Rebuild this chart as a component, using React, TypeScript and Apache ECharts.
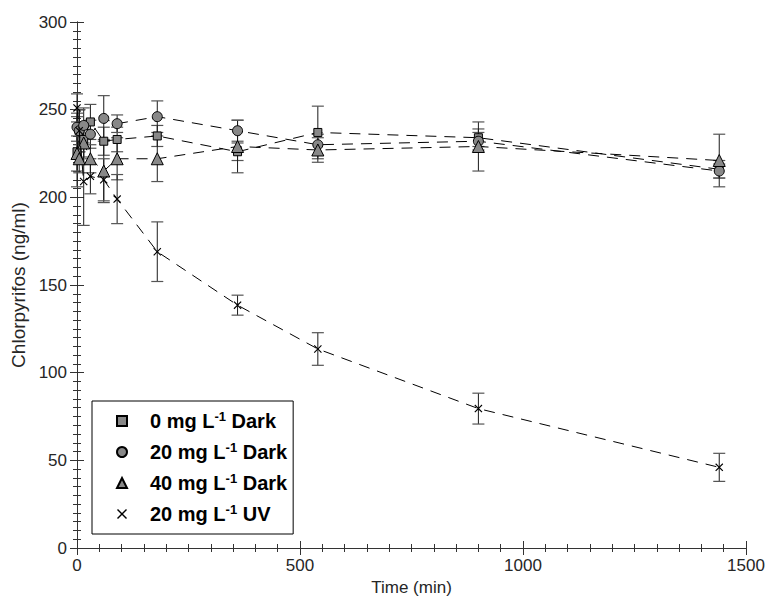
import React, { useEffect, useRef } from "react";
import * as echarts from "echarts";

const times = [0, 5, 15, 30, 60, 90, 180, 360, 540, 900, 1440];
const dark0 = [226, 238, 233, 243, 232, 233, 235, 226, 237, 234, 216];
const dark0Err = [20, 12, 10, 10, 8, 7, 6, 5, 15, 5, 5];
const dark20 = [240, 238, 241, 236, 245, 242, 246, 238, 230, 232, 215];
const dark20Err = [8, 12, 10, 8, 13, 5, 9, 6, 6, 5, 4];
const dark40 = [225, 222, 231, 222, 215, 222, 222, 229, 227, 229, 221];
const dark40Err = [10, 8, 12, 8, 18, 12, 13, 15, 7, 14, 15];
const uv20 = [251, 238, 209, 212, 210, 199, 169, 138.5, 113.5, 79.5, 46];
const uv20Err = [8, 12, 25, 10, 12, 14, 17, 5.7, 9.3, 8.8, 8];

const xTicks = [0, 500, 1000, 1500];
const yTicks = [0, 50, 100, 150, 200, 250, 300];

const seriesNames = ["0 mg L-1 Dark", "20 mg L-1 Dark", "40 mg L-1 Dark", "20 mg L-1 UV"];
const legendPrefix = ["0 mg L", "20 mg L", "40 mg L", "20 mg L"];
const legendSup = ["-1", "-1", "-1", "-1"];
const legendSuffix = [" Dark", " Dark", " Dark", " UV"];

const FONT = "Liberation Sans, Arial, Helvetica, sans-serif";
const CROSS = "path://M0,1 L1,0 L5,4 L9,0 L10,1 L6,5 L10,9 L9,10 L5,6 L1,10 L0,9 L4,5 Z";

export default function App() {
  const ref = useRef<HTMLDivElement>(null);
  useEffect(() => {
    if (!ref.current) return;
    const chart = echarts.init(ref.current, null, { renderer: "svg" });
    const groups = [
      { vals: dark0, errs: dark0Err, symbol: "rect", size: 8, fill: "#888" },
      { vals: dark20, errs: dark20Err, symbol: "circle", size: 10, fill: "#888" },
      { vals: dark40, errs: dark40Err, symbol: "triangle", size: 12, fill: "#888" },
      { vals: uv20, errs: uv20Err, symbol: CROSS, size: 8, fill: "#000" },
    ];
    const series: any[] = [];
    groups.forEach((g, i) => {
      series.push({
        type: "custom",
        name: seriesNames[i] + " error",
        silent: true,
        z: 1,
        data: times.map((t, k) => [t, g.vals[k] - g.errs[k], g.vals[k] + g.errs[k]]),
        renderItem: (params: any, api: any) => {
          const x = api.value(0);
          const lo = api.coord([x, api.value(1)]);
          const hi = api.coord([x, api.value(2)]);
          const hw = 6;
          const st = { stroke: "#1a1a1a", lineWidth: 1 };
          const cap = { stroke: "#555", lineWidth: 1.2 };
          return {
            type: "group",
            children: [
              { type: "line", shape: { x1: lo[0], y1: lo[1], x2: hi[0], y2: hi[1] }, style: st },
              { type: "line", shape: { x1: lo[0] - hw, y1: lo[1], x2: lo[0] + hw, y2: lo[1] }, style: cap },
              { type: "line", shape: { x1: hi[0] - hw, y1: hi[1], x2: hi[0] + hw, y2: hi[1] }, style: cap },
            ],
          };
        },
      });
    });
    groups.forEach((g, i) => {
      series.push({
        type: "line",
        name: seriesNames[i],
        z: 2 + i,
        data: times.map((t, k) => [t, g.vals[k]]),
        symbol: g.symbol,
        symbolSize: g.size,
        showSymbol: true,
        lineStyle: { color: "#000", width: 1, type: [11, 8] },
        itemStyle: { color: g.fill, borderColor: "#000", borderWidth: i === 3 ? 0 : 1 },
      });
    });

    const axisCommon = {
      axisLine: { show: true, lineStyle: { color: "#333", width: 1 } },
      axisTick: { show: true, inside: true, length: 7, lineStyle: { color: "#333" } },
      minorTick: { show: true, splitNumber: 10, length: 4, lineStyle: { color: "#333" } },
      splitLine: { show: false },
    };

    chart.setOption({
      animation: false,
      backgroundColor: "#fff",
      textStyle: { fontFamily: FONT },
      grid: { left: 77, right: 24, top: 22, bottom: 53, containLabel: false },
      legend: {
        orient: "vertical",
        left: 92,
        top: 401,
        data: seriesNames.map((n, i) => ({ name: n, icon: groups[i].symbol })),
        itemWidth: 10,
        itemHeight: 10,
        itemGap: 9,
        borderColor: "#000",
        borderWidth: 1,
        padding: [9, 6, 9, 24],
        backgroundColor: "#fff",
        selectedMode: false,
        formatter: (name: string) => {
          const i = seriesNames.indexOf(name);
          return `{n|${legendPrefix[i]}}{s|${legendSup[i]}}{n|${legendSuffix[i]}}`;
        },
        textStyle: {
          fontFamily: FONT,
          padding: [0, 0, 0, 18],
          lineHeight: 22,
          rich: {
            n: { fontSize: 20, fontWeight: "bold", color: "#000", fontFamily: FONT, lineHeight: 22 },
            s: { fontSize: 13, fontWeight: "bold", color: "#000", fontFamily: FONT, lineHeight: 13, verticalAlign: "top" },
          },
        },
      },
      xAxis: [
        {
          type: "value",
          min: xTicks[0],
          max: xTicks[xTicks.length - 1],
          interval: 500,
          name: "Time (min)",
          nameLocation: "middle",
          nameGap: 31,
          nameTextStyle: { fontSize: 17, color: "#262626", fontFamily: FONT },
          axisLabel: { fontSize: 17, color: "#262626", margin: 9, fontFamily: FONT, formatter: (v: number) => String(v) },
          ...axisCommon,
        },
        {
          type: "value",
          position: "top",
          min: xTicks[0],
          max: xTicks[xTicks.length - 1],
          interval: 500,
          axisLabel: { show: false },
          ...axisCommon,
        },
      ],
      yAxis: [
        {
          type: "value",
          min: yTicks[0],
          max: yTicks[yTicks.length - 1],
          interval: 50,
          name: "Chlorpyrifos (ng/ml)",
          nameLocation: "middle",
          nameGap: 45,
          nameTextStyle: { fontSize: 19, color: "#262626", fontFamily: FONT },
          axisLabel: { fontSize: 17, color: "#262626", margin: 10, fontFamily: FONT, formatter: (v: number) => String(v) },
          ...axisCommon,
        },
        {
          type: "value",
          position: "right",
          min: yTicks[0],
          max: yTicks[yTicks.length - 1],
          interval: 50,
          axisLabel: { show: false },
          ...axisCommon,
        },
      ],
      series,
    });
    return () => chart.dispose();
  }, []);
  return <div ref={ref} style={{ position: "absolute", left: 0, top: 0, width: 770, height: 601 }} />;
}
